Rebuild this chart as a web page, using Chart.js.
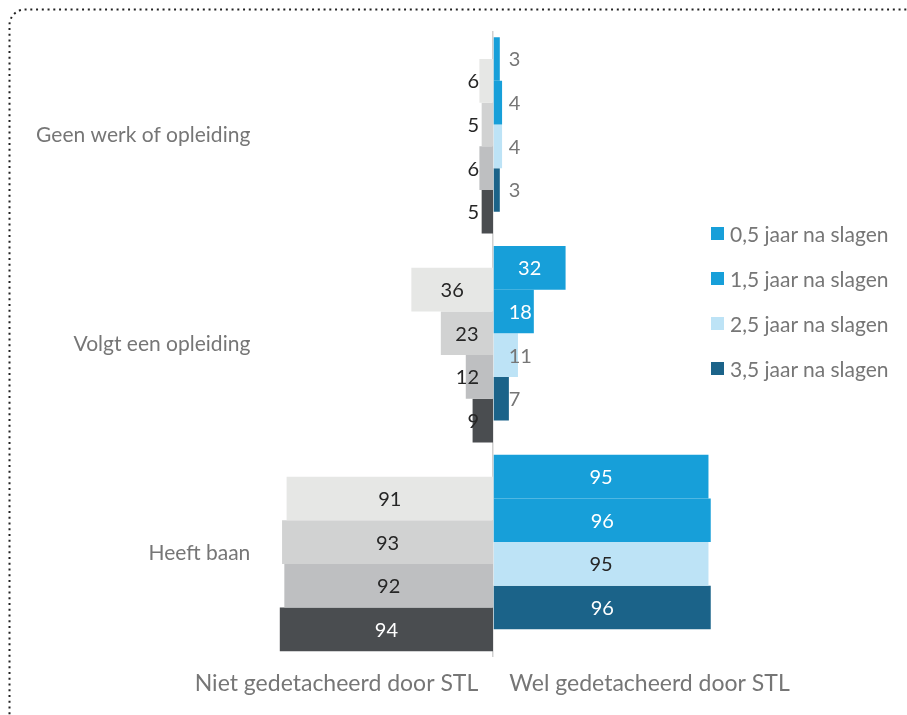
<!DOCTYPE html>
<html>
<head>
<meta charset="utf-8">
<script src="https://cdn.jsdelivr.net/npm/chart.js@4.4.1/dist/chart.umd.min.js"></script>
<style>
    html, body { margin: 0; padding: 0; background: #fff; }
    #wrap { position: relative; width: 907px; height: 715px; overflow: hidden; }
    #legend { position: absolute; left: 711px; top: 211px; margin: 0; padding: 0; list-style: none;
              font: 21px Lato, sans-serif; color: #767676; }
    #legend li { display: flex; align-items: center; height: 45px; white-space: nowrap; }
    #legend .box { width: 13px; height: 13px; margin-right: 6px; flex: none; }
</style>
</head>
<body>
<div id="wrap">
    <canvas id="stlChart" width="907" height="715"></canvas>
    <ul id="legend"></ul>
</div>
<script>
const categories = ["Geen werk of opleiding", "Volgt een opleiding", "Heeft baan"];
const periods = ["0,5 jaar na slagen", "1,5 jaar na slagen", "2,5 jaar na slagen", "3,5 jaar na slagen"];
const sideTitles = ["Niet gedetacheerd door STL", "Wel gedetacheerd door STL"];

// percentages, one array per period, in category order
const niet05 = [6, 36, 91];
const niet15 = [5, 23, 93];
const niet25 = [6, 12, 92];
const niet35 = [5, 9, 94];

const wel05 = [3, 32, 95];
const wel15 = [4, 18, 96];
const wel25 = [4, 11, 95];
const wel35 = [3, 7, 96];

const nietSeries = [niet05, niet15, niet25, niet35];
const welSeries = [wel05, wel15, wel25, wel35];

const nietColors = ["#e6e7e5", "#d1d2d2", "#bebfc1", "#4a4d50"];
const welColors = ["#179fd9", "#179fd9", "#bde3f6", "#1b6389"];
const nietLabelColors = ["#262626", "#262626", "#262626", "#ffffff"];
const welLabelColors = ["#ffffff", "#ffffff", "#262626", "#ffffff"];
const greyText = "#767676";

Chart.defaults.font.family = "Lato, sans-serif";
Chart.defaults.font.size = 21;

// wel and niet bars alternate, each bar two slots high, so every bar
// overlaps the next one by half (like Excel's 50% overlap)
const datasets = [];
periods.forEach((p, i) => {
    datasets.push({
        label: p,
        side: "wel",
        data: welSeries[i],
        backgroundColor: welColors[i],
        labelInside: welLabelColors[i],
        labelOutside: greyText,
        xAxisID: "xR",
    });
    datasets.push({
        label: p,
        side: "niet",
        data: nietSeries[i],
        backgroundColor: nietColors[i],
        labelInside: nietLabelColors[i],
        labelOutside: "#262626",
        xAxisID: "xL",
    });
});
datasets.forEach((ds) => {
    ds.yAxisID = "y";
    ds.borderWidth = 0;
    ds.barPercentage = 2;
    ds.categoryPercentage = 0.836;
});

const barValues = {
    id: "barValues",
    afterDatasetsDraw(chart) {
        const ctx = chart.ctx;
        ctx.save();
        ctx.font = "20px Lato, sans-serif";
        ctx.textAlign = "center";
        ctx.textBaseline = "middle";
        chart.data.datasets.forEach((ds, i) => {
            chart.getDatasetMeta(i).data.forEach((bar, j) => {
                const {x, y, base} = bar.getProps(["x", "y", "base"], true);
                const text = String(ds.data[j]);
                const w = ctx.measureText(text).width;
                const lo = Math.min(x, base);
                const hi = Math.max(x, base);
                let cx = (lo + hi) / 2;
                if (ds.side === "wel") {
                    cx = Math.max(cx, base + 15 + w / 2);
                } else {
                    cx = Math.min(cx, base - 14 - w / 2);
                }
                const inside = cx - w / 2 >= lo && cx + w / 2 <= hi;
                ctx.fillStyle = inside ? ds.labelInside : ds.labelOutside;
                ctx.fillText(text, cx, y + 1);
            });
        });
        ctx.restore();
    },
};

const frame = {
    id: "frame",
    beforeDraw(chart) {
        const ctx = chart.ctx;
        ctx.save();
        ctx.strokeStyle = "#222";
        ctx.lineWidth = 2;
        ctx.setLineDash([2, 3.75]);
        ctx.beginPath();
        ctx.moveTo(9.5, chart.height + 5);
        ctx.lineTo(9.5, 25);
        ctx.arcTo(9.5, 9.5, 25, 9.5, 15.5);
        ctx.lineTo(chart.width + 5, 9.5);
        ctx.stroke();
        ctx.restore();
    },
};

const htmlLegend = {
    id: "htmlLegend",
    afterUpdate(chart) {
        const list = document.getElementById("legend");
        list.innerHTML = "";
        const items = chart.options.plugins.legend.labels.generateLabels(chart);
        items
            .filter((it) => chart.data.datasets[it.datasetIndex].side === "wel")
            .forEach((it) => {
                const li = document.createElement("li");
                const box = document.createElement("span");
                box.className = "box";
                box.style.background = it.fillStyle;
                li.appendChild(box);
                li.appendChild(document.createTextNode(it.text));
                list.appendChild(li);
            });
    },
};

new Chart(document.getElementById("stlChart"), {
    type: "bar",
    data: {
        labels: categories,
        datasets: datasets,
    },
    plugins: [frame, barValues, htmlLegend],
    options: {
        indexAxis: "y",
        responsive: false,
        animation: false,
        layout: {
            padding: { left: 180, right: 101, top: 31, bottom: 14 },
        },
        plugins: {
            legend: { display: false },
            tooltip: { enabled: false },
        },
        scales: {
            y: {
                type: "category",
                position: { xL: 107 },
                offset: true,
                grid: { display: false, drawTicks: false },
                border: { display: false },
                ticks: { color: greyText, padding: 0 },
            },
            xL: {
                type: "linear",
                position: "bottom",
                stack: "sides",
                stackWeight: 1,
                reverse: true,
                min: 0,
                max: 138,
                grid: { display: false, drawTicks: false },
                border: { display: false },
                ticks: { display: false },
                title: {
                    display: true,
                    text: sideTitles[0],
                    color: greyText,
                    font: { size: 23 },
                    padding: { top: 12, bottom: 4 },
                },
            },
            xR: {
                type: "linear",
                position: "bottom",
                stack: "sides",
                stackWeight: 1,
                min: 0,
                max: 138,
                z: 1,
                grid: {
                    drawTicks: false,
                    lineWidth: 1.5,
                    color: (c) => (c.tick && c.tick.value === 0 ? "#d0d0d0" : "rgba(0,0,0,0)"),
                },
                border: { display: false },
                ticks: { display: false },
                title: {
                    display: true,
                    text: sideTitles[1],
                    color: greyText,
                    font: { size: 23 },
                    padding: { top: 12, bottom: 4 },
                },
            },
        },
    },
});
</script>
</body>
</html>
